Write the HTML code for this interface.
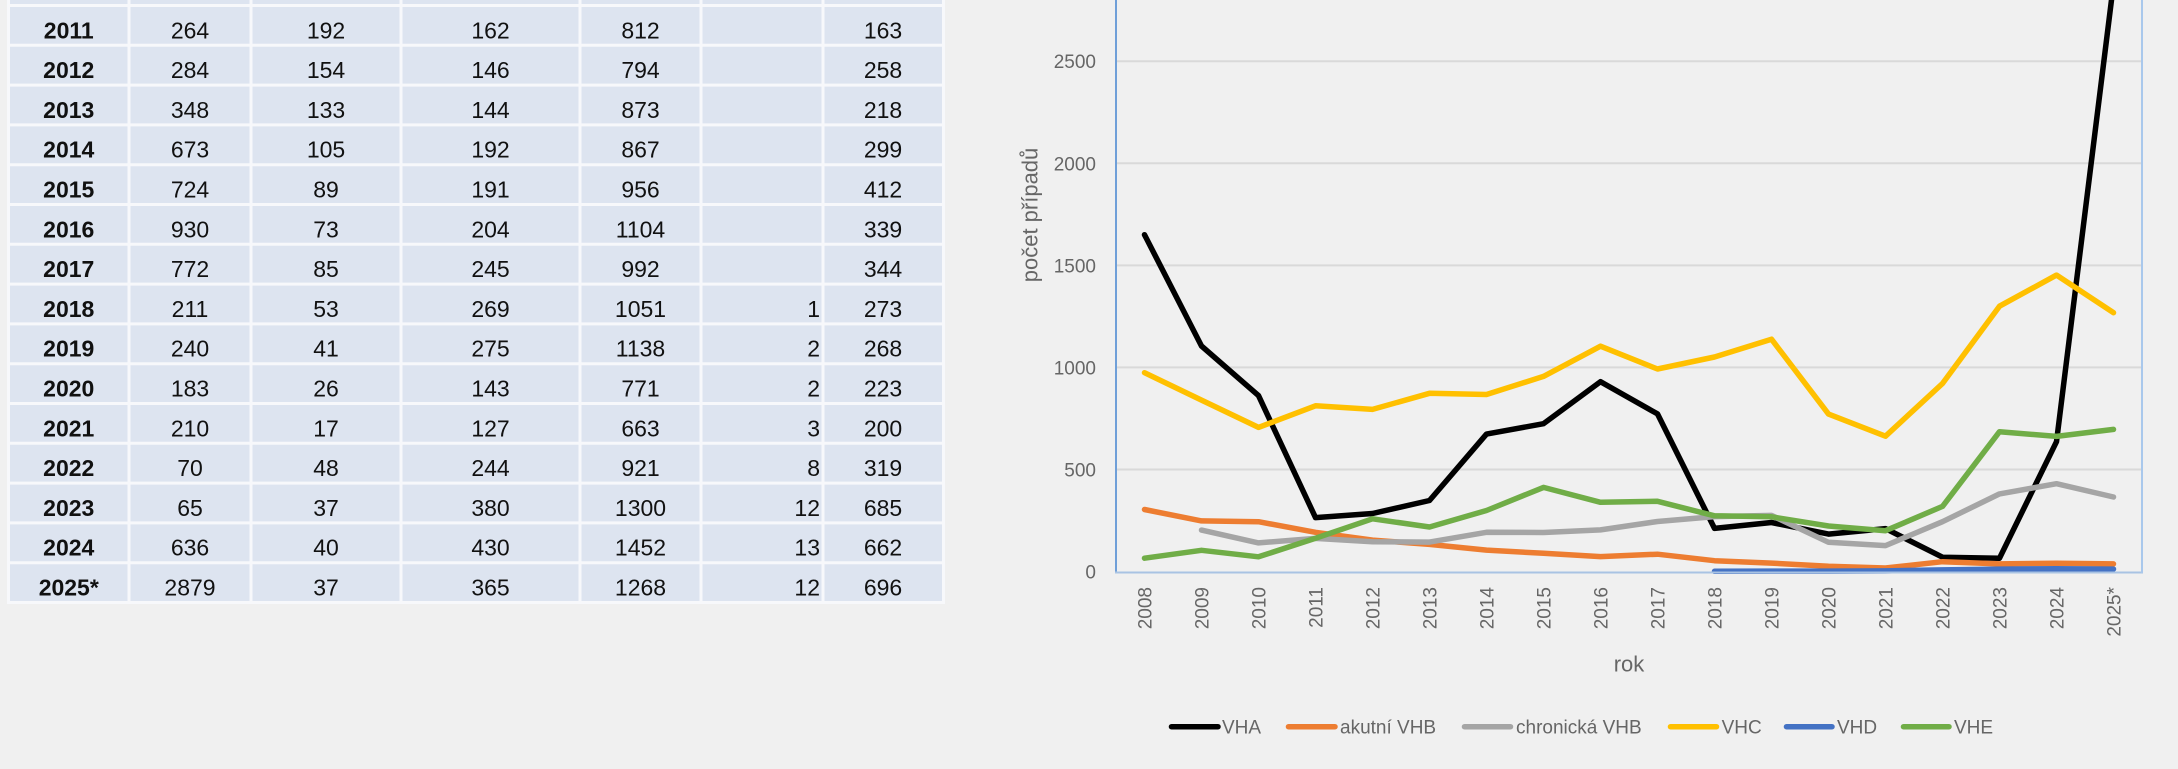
<!DOCTYPE html>
<html>
<head>
<meta charset="utf-8">
<style>
html,body{margin:0;padding:0;background:#f0f0f0;}
body{width:2178px;height:769px;overflow:hidden;}
svg{display:block;}
.t{font-family:"Liberation Sans",Arial,sans-serif;font-size:23px;fill:#111;}
.b{font-weight:bold;}
.ax{font-family:"Liberation Sans",Arial,sans-serif;font-size:19px;fill:#666;}
.ti{font-family:"Liberation Sans",Arial,sans-serif;font-size:22px;fill:#666;}
</style>
</head>
<body>
<svg width="2178" height="769" viewBox="0 0 2178 769" xmlns="http://www.w3.org/2000/svg">
<rect x="0" y="0" width="2178" height="769" fill="#f0f0f0"/>

<!-- TABLE background -->
<rect x="8.5" y="-10" width="935" height="614" fill="#dde4f0"/>
<g stroke="#f7f8fb" stroke-width="3">
<line x1="7" y1="5.5" x2="945" y2="5.5"/>
<line x1="7" y1="45.3" x2="945" y2="45.3"/>
<line x1="7" y1="85.1" x2="945" y2="85.1"/>
<line x1="7" y1="124.9" x2="945" y2="124.9"/>
<line x1="7" y1="164.7" x2="945" y2="164.7"/>
<line x1="7" y1="204.5" x2="945" y2="204.5"/>
<line x1="7" y1="244.3" x2="945" y2="244.3"/>
<line x1="7" y1="284.1" x2="945" y2="284.1"/>
<line x1="7" y1="323.9" x2="945" y2="323.9"/>
<line x1="7" y1="363.7" x2="945" y2="363.7"/>
<line x1="7" y1="403.5" x2="945" y2="403.5"/>
<line x1="7" y1="443.3" x2="945" y2="443.3"/>
<line x1="7" y1="483.1" x2="945" y2="483.1"/>
<line x1="7" y1="522.9" x2="945" y2="522.9"/>
<line x1="7" y1="562.7" x2="945" y2="562.7"/>
<line x1="7" y1="602.5" x2="945" y2="602.5"/>
<line x1="8.5" y1="-10" x2="8.5" y2="604"/>
<line x1="129" y1="-10" x2="129" y2="604"/>
<line x1="251" y1="-10" x2="251" y2="604"/>
<line x1="401" y1="-10" x2="401" y2="604"/>
<line x1="580" y1="-10" x2="580" y2="604"/>
<line x1="701" y1="-10" x2="701" y2="604"/>
<line x1="823" y1="-10" x2="823" y2="604"/>
<line x1="943.5" y1="-10" x2="943.5" y2="604"/>
</g>

<!-- TABLE text -->
<g class="t" text-anchor="middle">
<g transform="translate(0,38.3)"><text class="t b" x="68.75" y="0">2011</text><text x="190" y="0">264</text><text x="326" y="0">192</text><text x="490.5" y="0">162</text><text x="640.5" y="0">812</text><text x="883" y="0">163</text></g>
<g transform="translate(0,78.1)"><text class="t b" x="68.75" y="0">2012</text><text x="190" y="0">284</text><text x="326" y="0">154</text><text x="490.5" y="0">146</text><text x="640.5" y="0">794</text><text x="883" y="0">258</text></g>
<g transform="translate(0,117.9)"><text class="t b" x="68.75" y="0">2013</text><text x="190" y="0">348</text><text x="326" y="0">133</text><text x="490.5" y="0">144</text><text x="640.5" y="0">873</text><text x="883" y="0">218</text></g>
<g transform="translate(0,157.7)"><text class="t b" x="68.75" y="0">2014</text><text x="190" y="0">673</text><text x="326" y="0">105</text><text x="490.5" y="0">192</text><text x="640.5" y="0">867</text><text x="883" y="0">299</text></g>
<g transform="translate(0,197.5)"><text class="t b" x="68.75" y="0">2015</text><text x="190" y="0">724</text><text x="326" y="0">89</text><text x="490.5" y="0">191</text><text x="640.5" y="0">956</text><text x="883" y="0">412</text></g>
<g transform="translate(0,237.3)"><text class="t b" x="68.75" y="0">2016</text><text x="190" y="0">930</text><text x="326" y="0">73</text><text x="490.5" y="0">204</text><text x="640.5" y="0">1104</text><text x="883" y="0">339</text></g>
<g transform="translate(0,277.1)"><text class="t b" x="68.75" y="0">2017</text><text x="190" y="0">772</text><text x="326" y="0">85</text><text x="490.5" y="0">245</text><text x="640.5" y="0">992</text><text x="883" y="0">344</text></g>
<g transform="translate(0,316.9)"><text class="t b" x="68.75" y="0">2018</text><text x="190" y="0">211</text><text x="326" y="0">53</text><text x="490.5" y="0">269</text><text x="640.5" y="0">1051</text><text x="820" y="0" text-anchor="end">1</text><text x="883" y="0">273</text></g>
<g transform="translate(0,356.7)"><text class="t b" x="68.75" y="0">2019</text><text x="190" y="0">240</text><text x="326" y="0">41</text><text x="490.5" y="0">275</text><text x="640.5" y="0">1138</text><text x="820" y="0" text-anchor="end">2</text><text x="883" y="0">268</text></g>
<g transform="translate(0,396.5)"><text class="t b" x="68.75" y="0">2020</text><text x="190" y="0">183</text><text x="326" y="0">26</text><text x="490.5" y="0">143</text><text x="640.5" y="0">771</text><text x="820" y="0" text-anchor="end">2</text><text x="883" y="0">223</text></g>
<g transform="translate(0,436.3)"><text class="t b" x="68.75" y="0">2021</text><text x="190" y="0">210</text><text x="326" y="0">17</text><text x="490.5" y="0">127</text><text x="640.5" y="0">663</text><text x="820" y="0" text-anchor="end">3</text><text x="883" y="0">200</text></g>
<g transform="translate(0,476.1)"><text class="t b" x="68.75" y="0">2022</text><text x="190" y="0">70</text><text x="326" y="0">48</text><text x="490.5" y="0">244</text><text x="640.5" y="0">921</text><text x="820" y="0" text-anchor="end">8</text><text x="883" y="0">319</text></g>
<g transform="translate(0,515.9)"><text class="t b" x="68.75" y="0">2023</text><text x="190" y="0">65</text><text x="326" y="0">37</text><text x="490.5" y="0">380</text><text x="640.5" y="0">1300</text><text x="820" y="0" text-anchor="end">12</text><text x="883" y="0">685</text></g>
<g transform="translate(0,555.7)"><text class="t b" x="68.75" y="0">2024</text><text x="190" y="0">636</text><text x="326" y="0">40</text><text x="490.5" y="0">430</text><text x="640.5" y="0">1452</text><text x="820" y="0" text-anchor="end">13</text><text x="883" y="0">662</text></g>
<g transform="translate(0,595.5)"><text class="t b" x="68.75" y="0">2025*</text><text x="190" y="0">2879</text><text x="326" y="0">37</text><text x="490.5" y="0">365</text><text x="640.5" y="0">1268</text><text x="820" y="0" text-anchor="end">12</text><text x="883" y="0">696</text></g>
</g>

<!-- CHART gridlines -->
<g stroke="#d9d9d9" stroke-width="2">
<line x1="1117" y1="469.5" x2="2141" y2="469.5"/>
<line x1="1117" y1="367.4" x2="2141" y2="367.4"/>
<line x1="1117" y1="265.4" x2="2141" y2="265.4"/>
<line x1="1117" y1="163.3" x2="2141" y2="163.3"/>
<line x1="1117" y1="61.2" x2="2141" y2="61.2"/>
</g>

<!-- Y tick labels -->
<g class="ax" text-anchor="end">
<text x="1096" y="578.5">0</text>
<text x="1096" y="476.5">500</text>
<text x="1096" y="374.4">1000</text>
<text x="1096" y="272.4">1500</text>
<text x="1096" y="170.3">2000</text>
<text x="1096" y="68.2">2500</text>
</g>

<!-- Y axis title -->
<text class="ti" text-anchor="middle" transform="translate(1037.5,215) rotate(-90)">počet případů</text>

<!-- X tick labels -->
<g class="ax" text-anchor="end">
<text transform="translate(1151.3,587) rotate(-90)">2008</text>
<text transform="translate(1208.3,587) rotate(-90)">2009</text>
<text transform="translate(1265.3,587) rotate(-90)">2010</text>
<text transform="translate(1322.3,587) rotate(-90)">2011</text>
<text transform="translate(1379.3,587) rotate(-90)">2012</text>
<text transform="translate(1436.3,587) rotate(-90)">2013</text>
<text transform="translate(1493.3,587) rotate(-90)">2014</text>
<text transform="translate(1550.3,587) rotate(-90)">2015</text>
<text transform="translate(1607.3,587) rotate(-90)">2016</text>
<text transform="translate(1664.3,587) rotate(-90)">2017</text>
<text transform="translate(1721.3,587) rotate(-90)">2018</text>
<text transform="translate(1778.3,587) rotate(-90)">2019</text>
<text transform="translate(1835.3,587) rotate(-90)">2020</text>
<text transform="translate(1892.3,587) rotate(-90)">2021</text>
<text transform="translate(1949.3,587) rotate(-90)">2022</text>
<text transform="translate(2006.3,587) rotate(-90)">2023</text>
<text transform="translate(2063.3,587) rotate(-90)">2024</text>
<text transform="translate(2120.3,587) rotate(-90)">2025*</text>
</g>

<!-- X axis title -->
<text class="ti" x="1629" y="671.7" text-anchor="middle">rok</text>

<!-- Series -->
<g fill="none" stroke-width="5.5" stroke-linejoin="round" stroke-linecap="round">
<polyline stroke="#000000" points="1144.5,234.7 1201.5,346.0 1258.5,395.6 1315.5,517.6 1372.5,513.5 1429.5,500.5 1486.5,434.1 1543.5,423.7 1600.5,381.7 1657.5,413.9 1714.5,528.4 1771.5,522.5 1828.5,534.1 1885.5,528.6 1942.5,557.2 1999.5,558.2 2056.5,441.7 2113.5,-16.1"/>
<polyline stroke="#ed7d31" points="1144.5,509.5 1201.5,520.9 1258.5,521.7 1315.5,532.3 1372.5,540.1 1429.5,544.4 1486.5,550.1 1543.5,553.3 1600.5,556.6 1657.5,554.2 1714.5,560.7 1771.5,563.1 1828.5,566.2 1885.5,568.0 1942.5,561.7 1999.5,563.9 2056.5,563.3 2113.5,563.9"/>
<polyline stroke="#a5a5a5" points="1201.5,530.1 1258.5,542.9 1315.5,538.4 1372.5,541.7 1429.5,542.1 1486.5,532.3 1543.5,532.5 1600.5,529.9 1657.5,521.5 1714.5,516.6 1771.5,515.4 1828.5,542.3 1885.5,545.6 1942.5,521.7 1999.5,493.9 2056.5,483.7 2113.5,497.0"/>
<polyline stroke="#ffc000" points="1144.5,372.7 1201.5,400.1 1258.5,427.4 1315.5,405.8 1372.5,409.4 1429.5,393.3 1486.5,394.5 1543.5,376.4 1600.5,346.2 1657.5,369.0 1714.5,357.0 1771.5,339.2 1828.5,414.1 1885.5,436.2 1942.5,383.5 1999.5,306.2 2056.5,275.1 2113.5,312.7"/>
<polyline stroke="#4472c4" points="1714.5,571.3 1771.5,571.1 1828.5,571.1 1885.5,570.9 1942.5,569.9 1999.5,569.1 2056.5,568.8 2113.5,569.1"/>
<polyline stroke="#70ad47" points="1144.5,558.2 1201.5,550.3 1258.5,556.8 1315.5,538.2 1372.5,518.8 1429.5,527.0 1486.5,510.5 1543.5,487.4 1600.5,502.3 1657.5,501.3 1714.5,515.8 1771.5,516.8 1828.5,526.0 1885.5,530.7 1942.5,506.4 1999.5,431.7 2056.5,436.4 2113.5,429.4"/>
</g>

<!-- plot frame -->
<line x1="1116" y1="0" x2="1116" y2="573" stroke="#6f9fd8" stroke-width="2"/>
<line x1="1115" y1="572.5" x2="2143" y2="572.5" stroke="#a9c3e3" stroke-width="2"/>
<line x1="2142" y1="0" x2="2142" y2="573" stroke="#a9c8ec" stroke-width="2"/>

<!-- Legend -->
<g stroke-width="5.5" stroke-linecap="round">
<line x1="1171.5" y1="726.7" x2="1218" y2="726.7" stroke="#000000"/>
<line x1="1288.5" y1="726.7" x2="1335" y2="726.7" stroke="#ed7d31"/>
<line x1="1464.5" y1="726.7" x2="1510.5" y2="726.7" stroke="#a5a5a5"/>
<line x1="1670.5" y1="726.7" x2="1716.5" y2="726.7" stroke="#ffc000"/>
<line x1="1786.5" y1="726.7" x2="1832" y2="726.7" stroke="#4472c4"/>
<line x1="1903.5" y1="726.7" x2="1949" y2="726.7" stroke="#70ad47"/>
</g>
<g class="ax">
<text x="1222" y="733.5">VHA</text>
<text x="1340" y="733.5">akutní VHB</text>
<text x="1516" y="733.5">chronická VHB</text>
<text x="1721.6" y="733.5">VHC</text>
<text x="1837" y="733.5">VHD</text>
<text x="1954" y="733.5">VHE</text>
</g>
</svg>
</body>
</html>
